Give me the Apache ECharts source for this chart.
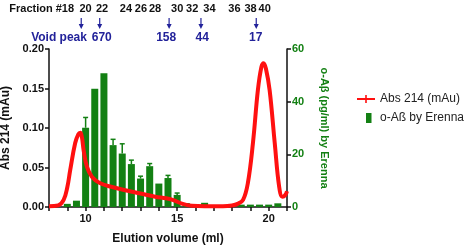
<!DOCTYPE html>
<html>
<head>
<meta charset="utf-8">
<script src="https://cdn.jsdelivr.net/npm/echarts@6/dist/echarts.min.js"></script>
<style>
  html, body { margin: 0; padding: 0; background: #fff; }
  #chart { width: 472px; height: 249px; }
</style>
</head>
<body>
<div id="chart"></div>
<script>
// Abs 214 trace (elution volume ml, mAu)
const absVolume = [8.0, 8.5, 8.8, 9.0, 9.16, 9.43, 9.6, 9.71, 9.8, 9.89, 10.07, 10.35, 10.8, 11.5, 12.1, 13.0, 13.8, 14.4, 14.75, 15.3, 15.8, 16.5, 17.5, 18.0, 18.3, 18.6, 18.86, 19.14, 19.41, 19.6, 19.72, 19.85, 20.05, 20.33, 20.57, 20.75, 20.9, 21.0];
const absValues = [0.001, 0.002, 0.009, 0.025, 0.047, 0.081, 0.092, 0.094, 0.088, 0.072, 0.051, 0.038, 0.030, 0.025, 0.0215, 0.017, 0.013, 0.011, 0.009, 0.004, 0.0016, 0.001, 0.001, 0.002, 0.004, 0.009, 0.030, 0.081, 0.148, 0.177, 0.182, 0.175, 0.148, 0.081, 0.026, 0.013, 0.015, 0.020];

// o-Abeta per fraction (pg/ml)
const barVolume = [9.0, 9.5, 10.0, 10.5, 11.0, 11.5, 12.0, 12.5, 13.0, 13.5, 14.0, 14.5, 15.0, 15.5, 16.0, 16.5, 17.0, 17.5, 18.0, 18.5, 19.0, 19.5, 20.0, 20.5];
const barValues = [1.2, 2.4, 30.1, 44.9, 50.8, 23.5, 20.3, 16.3, 10.8, 15.5, 8.9, 11.0, 4.6, 1.5, 0.5, 1.6, 0.6, 0.3, 0.4, 0.9, 0.9, 0.9, 0.9, 1.4];
const barUpper = [null, null, 34, null, null, 25.7, 24, 17.8, 11.7, 16.5, null, 12, 5.3, null, null, null, null, null, null, null, null, null, null, null];

// top annotations
const fractionLabels = ['Fraction #18', '20', '22', '24', '26', '28', '30', '32', '34', '36', '38', '40'];
const fractionPos = [7.6, 10.0, 10.9, 12.2, 13.02, 13.79, 15.0, 15.82, 16.76, 18.13, 19.01, 19.78];
const markerLabels = ['Void peak', '670', '158', '44', '17'];
const markerLabelPos = [8.55, 10.88, 14.4, 16.37, 19.29];
const markerArrowPos = [9.76, 10.77, 14.56, 16.3, 19.32];

const font = 'Arial, "Liberation Sans", sans-serif';
const green = '#138013';
const navy = '#22229a';

const chart = echarts.init(document.getElementById('chart'));

const option = {
  animation: false,
  textStyle: { fontFamily: font },
  grid: { left: 49, right: 185, top: 49, bottom: 42, outerBoundsMode: 'none', containLabel: false },
  legend: {
    orient: 'vertical',
    left: 351,
    top: 88,
    itemWidth: 18,
    itemHeight: 10,
    itemGap: 7,
    textStyle: { fontSize: 12, color: '#222', fontFamily: font },
    data: [
      { name: 'Abs 214 (mAu)' },
      { name: 'o-Aß by Erenna', icon: 'path://M0,0h0.1v0.1h-0.1z M9,0h5.5v10h-5.5z M17.9,9.9h0.1v0.1h-0.1z' }
    ]
  },
  xAxis: {
    type: 'value',
    min: 8,
    max: 21,
    interval: 1,
    name: 'Elution volume (ml)',
    nameLocation: 'middle',
    nameGap: 26,
    nameTextStyle: { fontSize: 12, fontWeight: 'bold', color: '#111' },
    axisLine: { lineStyle: { color: '#111', width: 1.5 } },
    axisTick: { lineStyle: { color: '#111', width: 1.5 }, length: 4 },
    splitLine: { show: false },
    axisLabel: {
      fontSize: 11, fontWeight: 'bold', color: '#111', margin: 6,
      formatter: v => (v % 5 === 0 ? String(v) : '')
    }
  },
  yAxis: [
    {
      type: 'value',
      min: 0,
      max: 0.2,
      interval: 0.05,
      name: 'Abs 214 (mAu)',
      nameLocation: 'middle',
      nameGap: 29,
      nameTextStyle: { fontSize: 12, fontWeight: 'bold', color: '#111' },
      axisLine: { show: true, lineStyle: { color: '#111', width: 1.5 } },
      axisTick: { show: true, lineStyle: { color: '#111', width: 1.5 }, length: 4 },
      splitLine: { show: false },
      axisLabel: { fontSize: 11, fontWeight: 'bold', color: '#111', margin: 5, formatter: v => v.toFixed(2) }
    },
    {
      type: 'value',
      min: 0,
      max: 60,
      interval: 20,
      position: 'right',
      name: 'o-Aβ (pg/ml) by Erenna',
      nameLocation: 'middle',
      nameRotate: -90,
      nameGap: 32,
      nameTextStyle: { fontSize: 11, fontWeight: 'bold', color: green },
      axisLine: { show: true, lineStyle: { color: '#111', width: 1.5 } },
      axisTick: { show: true, lineStyle: { color: '#111', width: 1.5 }, length: 4 },
      splitLine: { show: false },
      axisLabel: { fontSize: 11, fontWeight: 'bold', color: green, margin: 5 }
    }
  ],
  series: [
    {
      name: 'o-Aß by Erenna',
      type: 'bar',
      yAxisIndex: 1,
      barWidth: 7,
      itemStyle: { color: green },
      data: barVolume.map((v, i) => [v, barValues[i]]),
      z: 2
    },
    {
      name: 'errors',
      type: 'custom',
      yAxisIndex: 1,
      data: barVolume.map((v, i) => [v, barValues[i], barUpper[i]]).filter(d => d[2] != null),
      renderItem: (params, api) => {
        const low = api.coord([api.value(0), api.value(1)]);
        const high = api.coord([api.value(0), api.value(2)]);
        const style = { stroke: green, lineWidth: 1.5 };
        return {
          type: 'group',
          children: [
            { type: 'line', shape: { x1: low[0], y1: low[1], x2: high[0], y2: high[1] }, style },
            { type: 'line', shape: { x1: high[0] - 2.5, y1: high[1], x2: high[0] + 2.5, y2: high[1] }, style }
          ]
        };
      },
      z: 3
    },
    {
      name: 'Abs 214 (mAu)',
      type: 'line',
      yAxisIndex: 0,
      smooth: 0.4,
      symbol: 'path://M4,0h2v4h4v2h-4v4h-2v-4h-4v-2h4z',
      symbolSize: 6,
      showSymbol: false,
      itemStyle: { color: '#ff1010' },
      lineStyle: { color: '#ff1010', width: 4 },
      data: absVolume.map((v, i) => [v, absValues[i]]),
      z: 5
    }
  ]
};

chart.setOption(option);

// annotations placed via the x scale
const px = v => chart.convertToPixel({ xAxisIndex: 0 }, v);
const graphics = [];
fractionLabels.forEach((t, i) => {
  graphics.push({
    type: 'text',
    x: px(fractionPos[i]),
    y: 9,
    style: { text: t, fill: '#111', font: 'bold 11px ' + font, align: 'center', verticalAlign: 'middle' }
  });
});
markerArrowPos.forEach(v => {
  const x = px(v);
  graphics.push({ type: 'line', shape: { x1: x, y1: 18, x2: x, y2: 27 }, style: { stroke: navy, lineWidth: 1.2 } });
  graphics.push({ type: 'polygon', shape: { points: [[x - 2.5, 24], [x + 2.5, 24], [x, 29]] }, style: { fill: navy } });
});
markerLabels.forEach((t, i) => {
  graphics.push({
    type: 'text',
    x: px(markerLabelPos[i]),
    y: 38,
    style: { text: t, fill: navy, font: 'bold 12px ' + font, align: 'center', verticalAlign: 'middle' }
  });
});
chart.setOption({ graphic: graphics });
</script>
</body>
</html>
